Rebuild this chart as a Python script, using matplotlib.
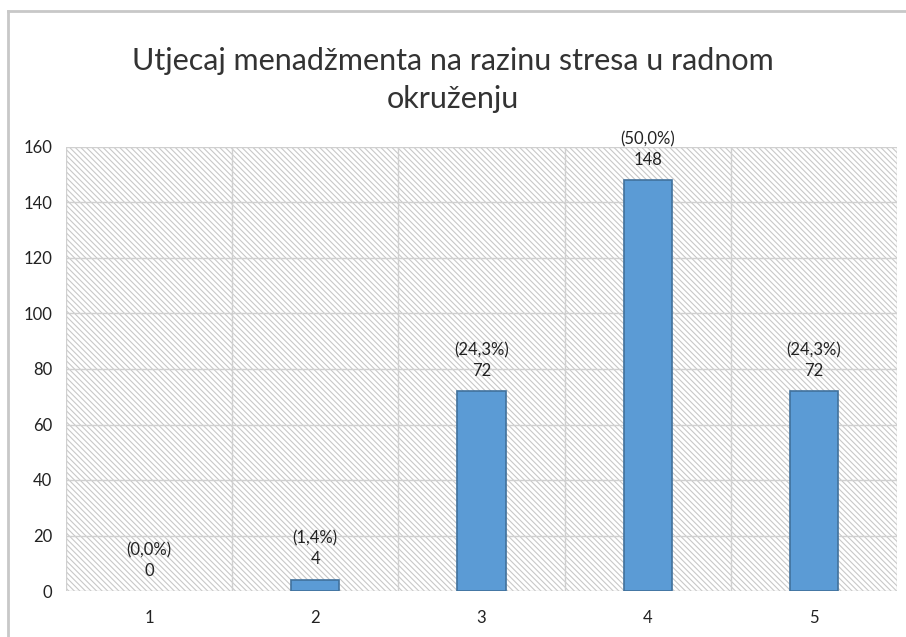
import matplotlib
matplotlib.use("Agg")
import matplotlib.pyplot as plt
from matplotlib.patches import Rectangle
from matplotlib.lines import Line2D

categories = ["1", "2", "3", "4", "5"]
values = [0, 4, 72, 148, 72]
percents = ["(0,0%)", "(1,4%)", "(24,3%)", "(50,0%)", "(24,3%)"]
title = "Utjecaj menadžmenta na razinu stresa u radnom\nokruženju"
yticks = [0, 20, 40, 60, 80, 100, 120, 140, 160]

plt.rcParams['font.family'] = ['Lato', 'DejaVu Sans']
plt.rcParams['hatch.color'] = '#c8c8c8'
plt.rcParams['hatch.linewidth'] = 0.8

W, H = 906, 637
fig = plt.figure(figsize=(W / 100, H / 100), dpi=100)
ax = fig.add_axes([66 / W, 1 - 591 / H, (897 - 66) / W, (591 - 147) / H])

# outer frame (left and top visible)
fig.add_artist(Line2D([8 / W, 8 / W], [0, 1 - 11 / H], transform=fig.transFigure,
                      color='#c8c8c8', lw=2))
fig.add_artist(Line2D([8 / W, 1], [1 - 11 / H, 1 - 11 / H], transform=fig.transFigure,
                      color='#c8c8c8', lw=2))

# hatched plot background
bg = Rectangle((0, 0), 1, 1, transform=ax.transAxes, facecolor='white',
               edgecolor='#c8c8c8', hatch='\\' * 6, lw=0, zorder=0)
ax.add_patch(bg)

x = list(range(len(categories)))
bars = ax.bar(x, values, width=0.29, color='#5b9bd5', edgecolor='#41719c', linewidth=1.2, zorder=3)
for b, v in zip(bars, values):
    if v == 0:
        b.set_visible(False)

ax.set_xlim(-0.5, len(categories) - 0.5)
ax.set_ylim(0, 160)
ax.set_yticks(yticks)
ax.set_xticks(x)
ax.set_xticklabels(categories)

for yv in yticks:
    ax.axhline(yv, color='#d0d0d0', lw=1, zorder=1)
for xv in [i + 0.5 for i in range(-1, len(categories))]:
    ax.axvline(xv, color='#d0d0d0', lw=1, zorder=1)

for s in ax.spines.values():
    s.set_visible(False)
ax.tick_params(length=0, labelsize=12, colors='#222222', pad=10)
ax.tick_params(axis='x', pad=14)

for xi, v, p in zip(x, values, percents):
    ax.annotate(p + "\n" + str(v), (xi, v), xytext=(0, 9), textcoords='offset points',
                ha='center', va='bottom', fontsize=12, color='#222222', linespacing=1.35)

fig.text(0.5, 1 - 80 / H, title, ha='center', va='center', fontsize=22,
         color='#333333', linespacing=1.45)

fig.savefig("out.png", dpi=100)
